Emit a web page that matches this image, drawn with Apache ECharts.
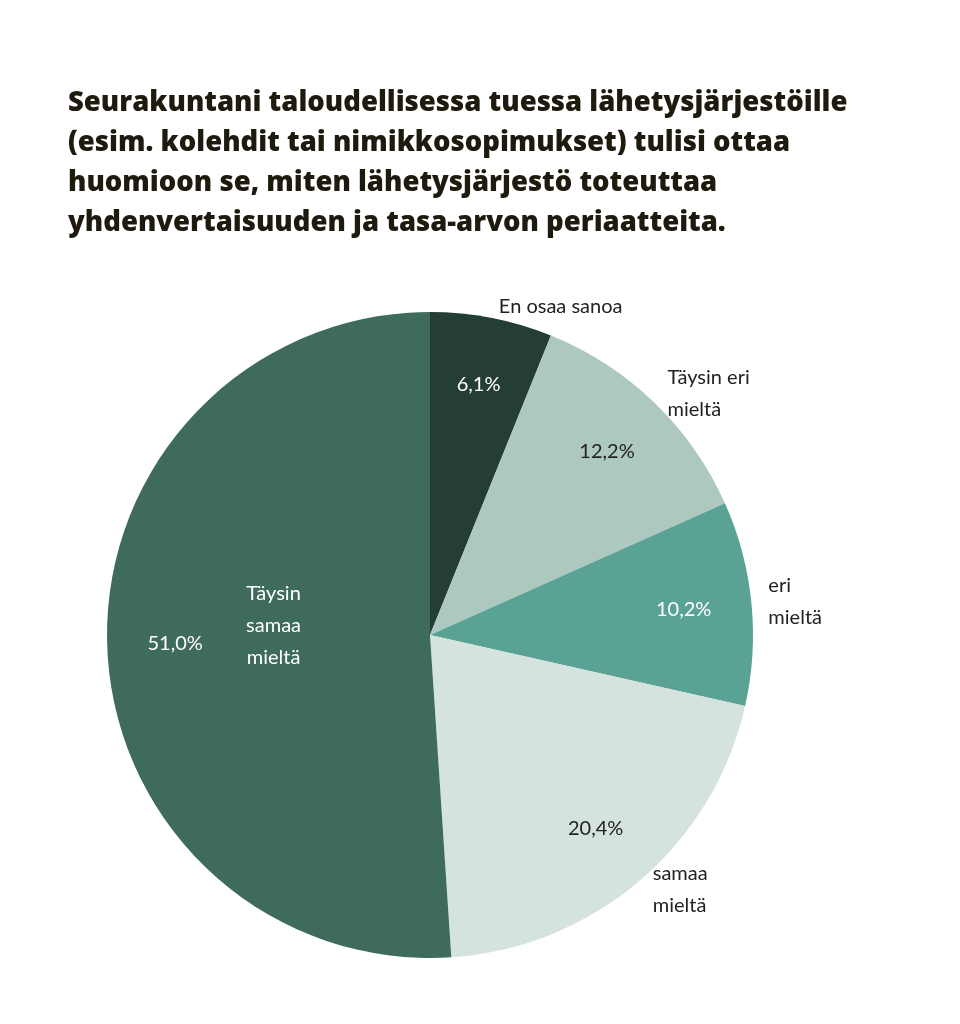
<!DOCTYPE html>
<html><head><meta charset="utf-8">
<script src="https://cdn.jsdelivr.net/npm/echarts@6/dist/echarts.min.js"></script>
<style>html,body{margin:0;background:#fff}#main{width:960px;height:1024px}</style>
</head><body><div id="main"></div>
<script>
var names = ['En osaa sanoa', 'Täysin eri\nmieltä', 'eri\nmieltä', 'samaa\nmieltä', 'Täysin\nsamaa\nmieltä'];
var values = [6.1, 12.2, 10.2, 20.4, 51.0];
var colors = ['#243d36', '#adc8bf', '#5aa293', '#d5e3de', '#3e6b5e'];
var pctColors = ['#fff', '#222', '#fff', '#222', '#fff'];

var chart = echarts.init(document.getElementById('main'));
var R = 323, cx = 430, cy = 635;
var font = 'Lato, "Noto Sans", sans-serif';

var slices = values.map(function (v, i) {
  return { value: v, name: names[i], itemStyle: { color: colors[i] } };
});
var pctData = values.map(function (v, i) {
  return { value: v, name: names[i], label: { color: pctColors[i] } };
});
var nameData = values.map(function (v, i) {
  var d = { value: v, name: names[i] };
  if (i === 4) d.label = { position: 'inside', color: '#fff', align: 'left', offset: [8, -15] };
  return d;
});

chart.setOption({
  animation: false,
  title: {
    text: 'Seurakuntani taloudellisessa tuessa lähetysjärjestöille\n(esim. kolehdit tai nimikkosopimukset) tulisi ottaa\nhuomioon se, miten lähetysjärjestö toteuttaa\nyhdenvertaisuuden ja tasa-arvon periaatteita.',
    left: 63, top: 78,
    textStyle: { fontFamily: '"Open Sans", sans-serif', fontWeight: 800, fontSize: 27.5, lineHeight: 40, color: '#1f1a0e' }
  },
  series: [
    {
      type: 'pie', center: [cx, cy], radius: [0, R], startAngle: 90, clockwise: true,
      label: { show: false }, labelLine: { show: false }, data: slices, silent: true
    },
    {
      type: 'pie', center: [cx, cy], radius: [0.56 * R, R], startAngle: 90, clockwise: true,
      itemStyle: { color: 'transparent' }, silent: true,
      label: { position: 'inside', fontFamily: font, fontSize: 20,
        formatter: function (p) { return p.value.toFixed(1).replace('.', ',') + '%'; } },
      data: pctData
    },
    {
      type: 'pie', center: [cx, cy], radius: [0, R], startAngle: 90, clockwise: true,
      itemStyle: { color: 'transparent' }, silent: true,
      label: { position: 'outside', fontFamily: font, fontSize: 20, lineHeight: 32, color: '#222', align: 'left' },
      labelLine: { show: false, length: 12, length2: 0 },
      data: nameData
    }
  ]
});
</script></body></html>
